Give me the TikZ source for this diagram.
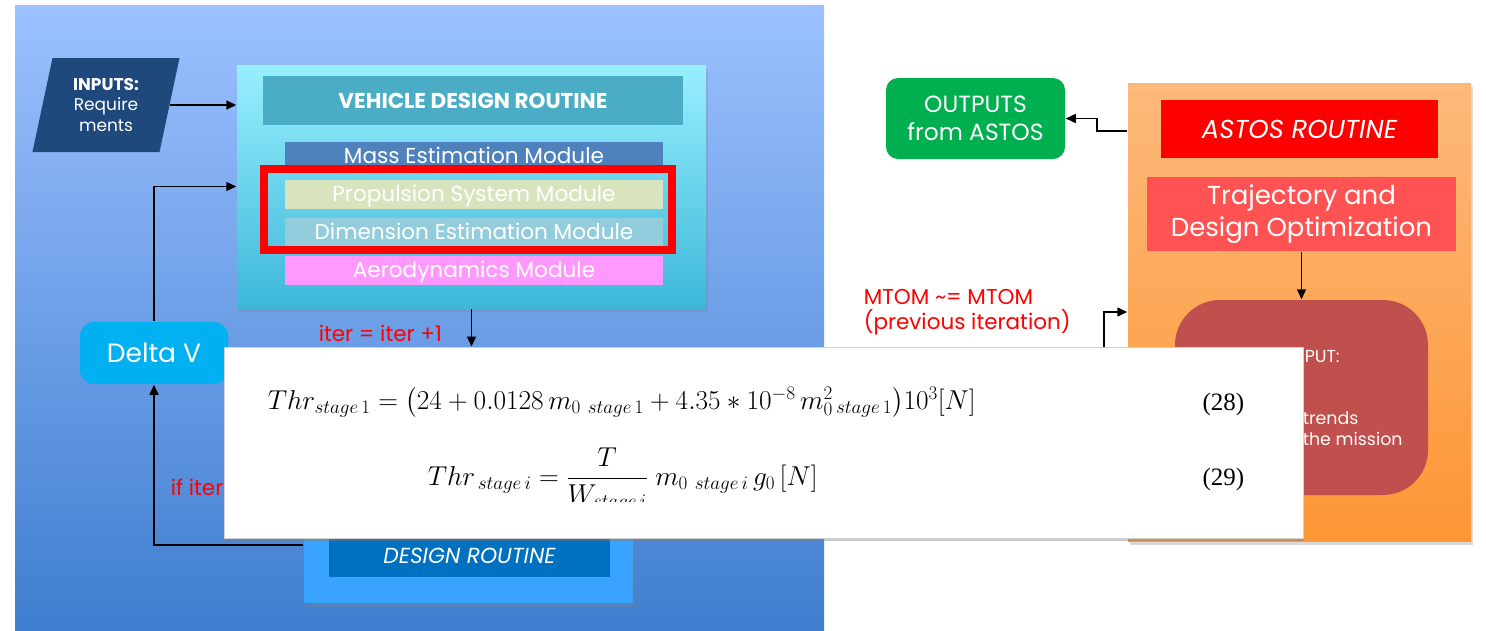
\RequirePackage{fix-cm}
\documentclass[tikz,border=0pt]{standalone}
\usepackage{amsmath}
\usepackage{fontspec}
\setmainfont{Poppins}
\newfontfamily\eqnumfont{Liberation Serif}
\usetikzlibrary{positioning,shapes.geometric,shadows,arrows.meta}

\definecolor{paneltop}{HTML}{9CC1FF}
\definecolor{panelbot}{HTML}{3F7ECF}
\definecolor{inputnavy}{HTML}{1F497D}
\definecolor{vdrtop}{HTML}{98EFFE}
\definecolor{vdrbot}{HTML}{3DB8D9}
\definecolor{titleteal}{HTML}{4BACC6}
\definecolor{massblue}{HTML}{4F81BD}
\definecolor{propgreen}{HTML}{D7E4BD}
\definecolor{dimblue}{HTML}{93CDDD}
\definecolor{aeropink}{HTML}{FF99FF}
\definecolor{deltacyan}{HTML}{00B0F0}
\definecolor{drlight}{HTML}{3AA2FF}
\definecolor{drdark}{HTML}{0070C0}
\definecolor{outgreen}{HTML}{00B050}
\definecolor{astostop}{HTML}{FDB97B}
\definecolor{astosbot}{HTML}{FD9635}
\definecolor{trajred}{HTML}{FF5353}
\definecolor{resultred}{HTML}{C0504D}

\begin{document}
\begin{tikzpicture}[x=1pt,y=-1pt,>={Triangle[length=10pt,width=9pt]},line width=1.5pt,node distance=38pt,
    bar node/.style={rectangle,inner sep=0pt,text=white},
    module bar/.style={bar node,minimum width=378pt,minimum height=29pt,text height=16pt,text depth=2pt,font=\fontsize{21.6}{25}\selectfont},
    red note/.style={text=red,inner sep=0pt,font=\fontsize{21.5}{25}\selectfont},
    soft shadow/.style={drop shadow={opacity=0.3,shadow xshift=2pt,shadow yshift=-4pt}}]

            \useasboundingbox (0,0) rectangle (1486,630);

            % left side: vehicle design loop
            \node[bar node, top color=paneltop, bottom color=panelbot, minimum width=809pt, minimum height=625pt] (designpanel) at (419.5,317.5) {};
            \node[trapezium, trapezium left angle=77, trapezium right angle=103, trapezium stretches=true,
                  fill=inputnavy, text=white, minimum width=148pt, minimum height=94pt, inner sep=0pt,
                  align=center, font=\fontsize{17}{20.5}\selectfont] (inputs) at (106,105) {\textbf{INPUTS:}\\Require\\ments};

            \node[bar node, soft shadow, top color=vdrtop, bottom color=vdrbot, minimum width=469pt, minimum height=243pt] (vdr) at (471.5,186.5) {};
            \node[bar node, fill=titleteal, minimum width=420pt, minimum height=49pt, font=\fontsize{21.5}{25}\selectfont\bfseries] (title) at (473,100.5) {VEHICLE DESIGN ROUTINE};
            \node[module bar, fill=massblue] (mass) at (474,156.5) {Mass Estimation Module};
            \node[module bar, fill=propgreen] (prop) [below of = mass] {Propulsion System Module};
            \node[module bar, fill=dimblue] (dim) [below of = prop] {Dimension Estimation Module};
            \node[module bar, fill=aeropink] (aero) [below of = dim] {Aerodynamics Module};
            \node[draw=red, line width=8pt, minimum width=408pt, minimum height=81pt, inner sep=0pt] (frame) at (468,209.5) {};

            \node[bar node, fill=deltacyan, rounded corners=14pt, minimum width=148pt, minimum height=62pt, font=\fontsize{26.5}{30}\selectfont] (deltav) at (154,353) {Delta V};

            \node[bar node, soft shadow, fill=drlight, minimum width=329pt, minimum height=116pt] (drbox) at (468.5,545) {};
            \node[bar node, fill=drdark, minimum width=281pt, minimum height=42pt, font=\fontsize{21.8}{25}\selectfont\itshape] (drbar) at (469.5,556) {DESIGN ROUTINE};

            \draw[->] (inputs.east) to (inputs.east -| vdr.west);
            \draw[->] (deltav) |- (vdr.west);
            \draw[->] (drbox.west) -| (deltav.south);

            \node[red note, anchor=base west] (iternote) at (318,341) {iter = iter +1};
            \node[red note, anchor=base west] (ifnote) at (170,495) {if iter};

            % right side: astos routine
            \node[bar node, soft shadow, top color=astostop, bottom color=astosbot, minimum width=343pt, minimum height=458pt] (astos) at (1299.5,312) {};
            \node[bar node, fill=red, minimum width=277pt, minimum height=58pt, font=\fontsize{25.9}{30}\selectfont\itshape] (astostitle) at (1299.5,129) {ASTOS ROUTINE};
            \node[bar node, fill=trajred, minimum width=309pt, minimum height=74pt, align=center, font=\fontsize{26}{32}\selectfont] (traj) at (1301.5,214) {Trajectory and\\Design Optimization};
            \node[bar node, fill=resultred, rounded corners=45pt, minimum width=253pt, minimum height=195pt] (result) at (1301.5,397.5) {};
            \node[bar node, fill=outgreen, rounded corners=12pt, minimum width=179pt, minimum height=81pt, align=center, font=\fontsize{23.4}{28}\selectfont] (outputs) at (975.5,118.5) {OUTPUTS\\from ASTOS};

            \coordinate (outjoin) at (1097,131);
            \coordinate (mtomfoot) at (1104,347);
            \draw[->] (traj) to (result);
            \draw[->] (outjoin -| astos.west) -- (outjoin) |- (outputs.east);
            \draw[->] (mtomfoot) |- (astos.west);

            \node[red note, anchor=north west, align=left] (mtomnote) at (863,289) {MTOM \textasciitilde= MTOM\\(previous iteration)};

            \node[bar node, text=white!95!pink, anchor=base west, font=\fontsize{17.4}{20}\selectfont] (resultone) at (1304,362) {PUT:};
            \node[bar node, text=white!95!pink, anchor=base west, font=\fontsize{17.4}{20}\selectfont] (resulttwo) at (1302,424) {trends};
            \node[bar node, text=white!95!pink, anchor=base west, font=\fontsize{17.4}{20}\selectfont] (resultthree) at (1302,445) {the mission};

            % pasted equations on top
            \node[fill=white, draw=gray!35, line width=1pt, drop shadow={opacity=0.4,shadow xshift=1pt,shadow yshift=-3pt},
                  minimum width=1079pt, minimum height=191pt, inner sep=0pt] (eqbox) at (763.5,442.5) {};
            \draw[->] (vdr.south) to (vdr.south |- eqbox.north);

            \node[anchor=base west, inner sep=0pt, font=\fontsize{27.3}{32}\selectfont] (eqone) at (267,409)
                {$Thr_{stage\,1} = \bigl(24 + 0.0128\, m_{0\ stage\,1} + 4.35 * 10^{-8}\, m_0^2{}_{\,stage\,1}\bigr)10^3[N]$};
            \begin{scope}
                \clip (224,347) rectangle (1303,501);
                \node[anchor=base west, inner sep=0pt, font=\fontsize{27.3}{32}\selectfont] (eqtwo) at (427,485)
                    {$Thr_{\,stage\,i} = \dfrac{T}{W_{stage\,i}}\; m_{0\ stage\,i}\, g_0\,[N]$};
            \end{scope}
            \node[anchor=base east, inner sep=0pt, font=\fontsize{25}{30}\eqnumfont] (numone) at (1245,410) {(28)};
            \node[anchor=base east, inner sep=0pt, font=\fontsize{25}{30}\eqnumfont] (numtwo) at (1245,485) {(29)};

            ;
        \end{tikzpicture}
\end{document}
